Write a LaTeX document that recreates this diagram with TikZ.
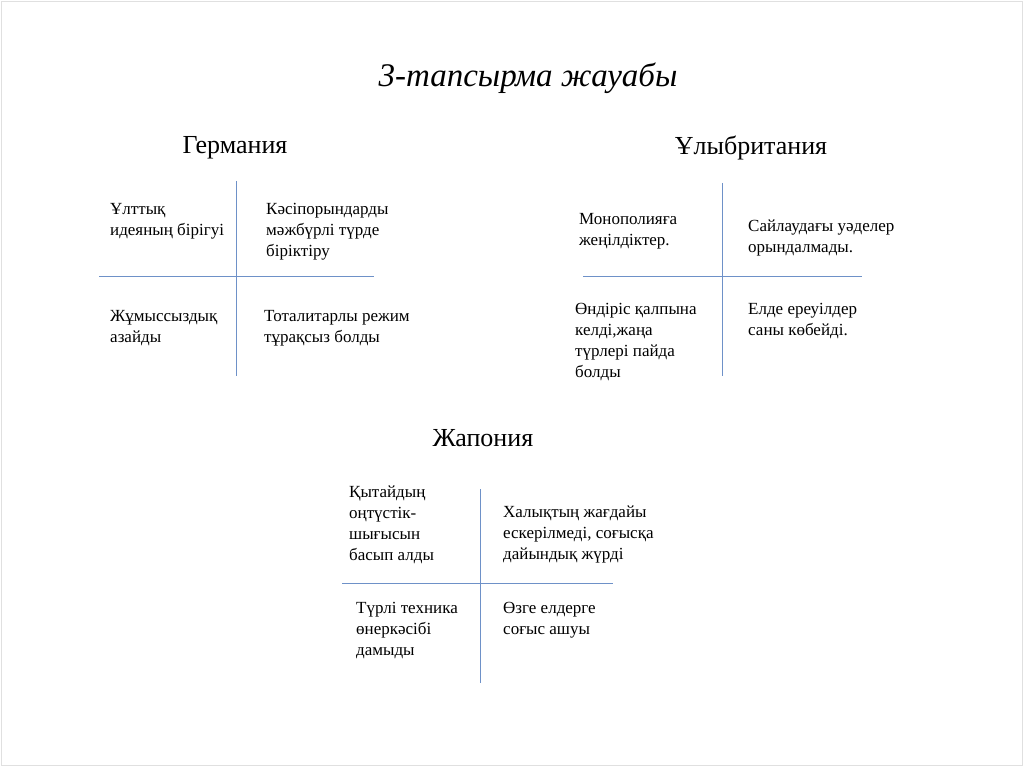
\documentclass[tikz,border=0pt]{standalone}
\usepackage{fontspec}
\setmainfont{Liberation Serif}
\definecolor{axc}{RGB}{110,145,200}
\begin{document}
\begin{tikzpicture}[x=1pt,y=-1pt,
  cell/.style={anchor=north west,inner sep=0pt,align=left,font=\fontsize{17}{21}\selectfont},
  head/.style={inner sep=0pt,font=\fontsize{26}{30}\selectfont},
  axis/.style={draw=axc,line width=1pt}]
\useasboundingbox (0,0) rectangle (1024,767);
\draw[black!12] (1.5,1.5) rectangle (1022.5,765.5);
\node[head,font=\fontsize{33}{36}\selectfont\itshape] (title) at (528,78) {3-тапсырма жауабы};
% Germany
\node[head] (hg) at (235,148) {Германия};
\coordinate (g1) at (236,181); \coordinate (g2) at (236,376);
\coordinate (g3) at (99,276); \coordinate (g4) at (374,276);
\draw[axis] (g1) -- (g2); \draw[axis] (g3) -- (g4);
\node[cell] (ga) at (110,203) {Ұлттық\\идеяның бірігуі};
\node[cell] (gb) at (266,203) {Кәсіпорындарды\\мәжбүрлі түрде\\біріктіру};
\node[cell] (gc) at (110,310) {Жұмыссыздық\\азайды};
\node[cell] (gd) at (264,310) {Тоталитарлы режим\\тұрақсыз болды};
% UK
\node[head] (hu) at (751,148) {Ұлыбритания};
\coordinate (u1) at (722,183); \coordinate (u2) at (722,376);
\coordinate (u3) at (583,276); \coordinate (u4) at (862,276);
\draw[axis] (u1) -- (u2); \draw[axis] (u3) -- (u4);
\node[cell] (ua) at (579,213) {Монополияға\\жеңілдіктер.};
\node[cell] (ub) at (748,220) {Сайлаудағы уәделер\\орындалмады.};
\node[cell] (uc) at (575,303) {Өндіріс қалпына\\келді,жаңа\\түрлері пайда\\болды};
\node[cell] (ud) at (748,303) {Елде ереуілдер\\саны көбейді.};
% Japan
\node[head] (hj) at (483,438) {Жапония};
\coordinate (j1) at (480,489); \coordinate (j2) at (480,683);
\coordinate (j3) at (342,583); \coordinate (j4) at (613,583);
\draw[axis] (j1) -- (j2); \draw[axis] (j3) -- (j4);
\node[cell] (ja) at (349,486) {Қытайдың\\оңтүстік-\\шығысын\\басып алды};
\node[cell] (jb) at (503,506) {Халықтың жағдайы\\ескерілмеді, соғысқа\\дайындық жүрді};
\node[cell] (jc) at (356,602) {Түрлі техника\\өнеркәсібі\\дамыды};
\node[cell] (jd) at (503,602) {Өзге елдерге\\соғыс ашуы};
\end{tikzpicture}
\end{document}
